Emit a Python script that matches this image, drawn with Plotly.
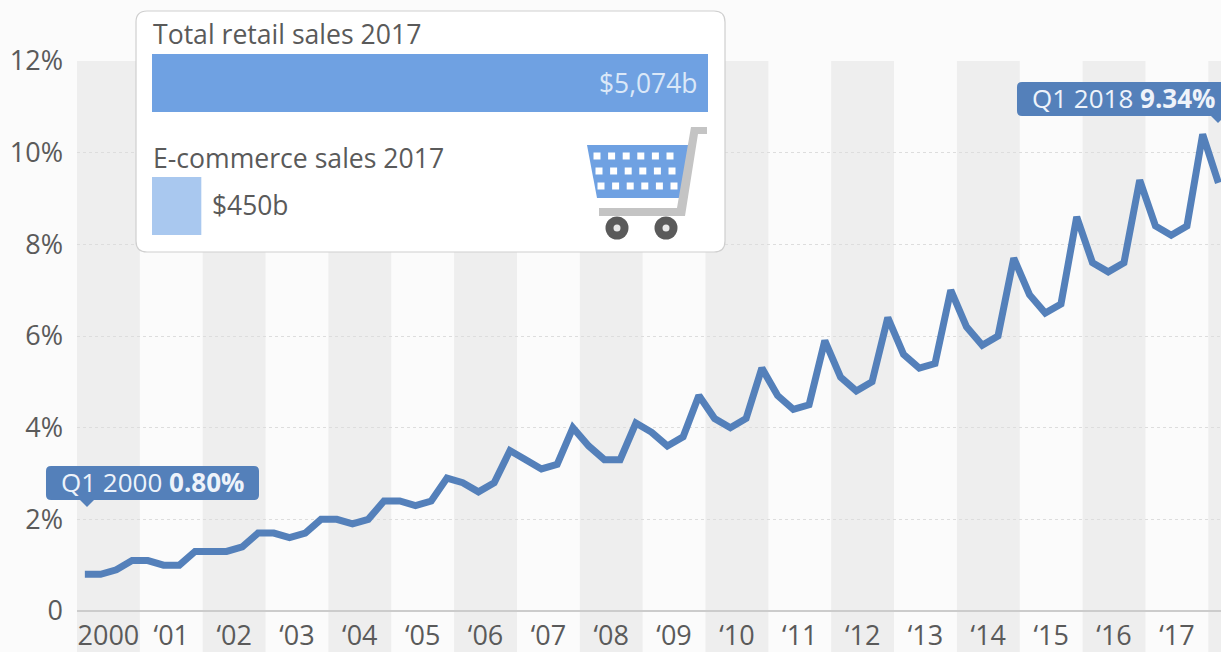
import plotly.graph_objects as go

W, H = 1221, 652

years = list(range(2000, 2019))
year_labels = ["2000", "‘01", "‘02", "‘03", "‘04", "‘05", "‘06", "‘07", "‘08", "‘09",
               "‘10", "‘11", "‘12", "‘13", "‘14", "‘15", "‘16", "‘17"]
share = [
    0.8, 0.8, 0.9, 1.1,
    1.1, 1.0, 1.0, 1.3,
    1.3, 1.3, 1.4, 1.7,
    1.7, 1.6, 1.7, 2.0,
    2.0, 1.9, 2.0, 2.4,
    2.4, 2.3, 2.4, 2.9,
    2.8, 2.6, 2.8, 3.5,
    3.3, 3.1, 3.2, 4.0,
    3.6, 3.3, 3.3, 4.1,
    3.9, 3.6, 3.8, 4.7,
    4.2, 4.0, 4.2, 5.3,
    4.7, 4.4, 4.5, 5.9,
    5.1, 4.8, 5.0, 6.4,
    5.6, 5.3, 5.4, 7.0,
    6.2, 5.8, 6.0, 7.7,
    6.9, 6.5, 6.7, 8.6,
    7.6, 7.4, 7.6, 9.4,
    8.4, 8.2, 8.4, 10.4,
    9.34,
]
y_ticks = [0, 2, 4, 6, 8, 10, 12]
y_labels = ["0", "2%", "4%", "6%", "8%", "10%", "12%"]
sales_names = ["Total retail sales 2017", "E-commerce sales 2017"]
sales_values = [5074, 450]

FONT = "Open Sans"
TEXT = "#5a5a5a"
LINE = "#5480ba"
BG = "#fbfbfb"
BAND = "#eeeeee"

quarter_x = [2000.125 + i * 0.2505 for i in range(len(share))]


def px(x):
    return x / W


def py(y):
    return 1 - y / H


def rounded(x0, y0, x1, y1, r, conv_x=px, conv_y=py):
    pts = [
        ("M", x0 + r, y0), ("L", x1 - r, y0), ("Q", x1, y0, x1, y0 + r),
        ("L", x1, y1 - r), ("Q", x1, y1, x1 - r, y1),
        ("L", x0 + r, y1), ("Q", x0, y1, x0, y1 - r),
        ("L", x0, y0 + r), ("Q", x0, y0, x0 + r, y0),
    ]
    out = []
    for p in pts:
        vals = p[1:]
        s = p[0]
        for k in range(0, len(vals), 2):
            s += f" {conv_x(vals[k]):.5f},{conv_y(vals[k + 1]):.5f}"
        out.append(s)
    return " ".join(out) + " Z"


def poly(points):
    return "M " + " L ".join(f"{px(a):.5f},{py(b):.5f}" for a, b in points) + " Z"


def circle(cx, cy, r):
    return dict(type="circle", xref="paper", yref="paper", x0=px(cx - r), x1=px(cx + r),
                y0=py(cy + r), y1=py(cy - r), line_width=0)


shapes = []
for i, yr in enumerate(years):
    if i % 2 == 0:
        shapes.append(dict(type="rect", xref="x", yref="paper", x0=yr, x1=yr + 1,
                           y0=0, y1=py(61), fillcolor=BAND, line_width=0, layer="below"))

# card, drawn in the sales subplot's own units so that the bars can sit on it
BAR_PX = 556 / sales_values[0]
card_x = lambda p: (p - 152) / BAR_PX
card_y = lambda p: (206 - p) / 123
shapes.append(dict(type="path", xref="x2", yref="y2", layer="between",
                   path=rounded(136, 11, 725, 252, 11, card_x, card_y),
                   fillcolor="#ffffff", line=dict(color="#cfcfcf", width=1.2)))

# callouts
shapes.append(dict(type="path", xref="paper", yref="paper", fillcolor=LINE, line_width=0,
                   path=rounded(46, 466, 259, 500, 5)))
shapes.append(dict(type="path", xref="paper", yref="paper", fillcolor=LINE, line_width=0,
                   path=poly([(79, 499), (87, 507), (95, 499)])))
shapes.append(dict(type="path", xref="paper", yref="paper", fillcolor=LINE, line_width=0,
                   path=rounded(1017, 82, 1235, 116, 5)))
shapes.append(dict(type="path", xref="paper", yref="paper", fillcolor=LINE, line_width=0,
                   path=poly([(1210, 115), (1218, 123), (1226, 115)])))

# shopping cart
CART_BLUE = "#6fa1e2"
CART_GREY = "#c4c4c4"
shapes.append(dict(type="path", xref="paper", yref="paper", fillcolor=CART_BLUE, line_width=0,
                   path=poly([(587, 145), (693, 145), (685, 198), (597, 198)])))
for r, (yy, x_start) in enumerate([(156, 597), (171, 599), (186, 601)]):
    for c in range(6):
        xx = x_start + c * 14.6
        shapes.append(dict(type="rect", xref="paper", yref="paper",
                           x0=px(xx - 3.5), x1=px(xx + 3.5), y0=py(yy + 3.5), y1=py(yy - 3.5),
                           fillcolor="#ffffff", line_width=0))
shapes.append(dict(type="path", xref="paper", yref="paper", fillcolor=CART_GREY, line_width=0,
                   path=poly([(691, 127), (707, 127), (707, 134), (698, 134), (685, 216),
                              (599, 216), (599, 208), (677, 208)])))
for cx in (617, 666):
    shapes.append({**circle(cx, 228, 11.5), "fillcolor": "#5a5a5a"})
    shapes.append({**circle(cx, 228, 3.5), "fillcolor": "#e8e8e8"})


def ann(text, x, y, size, color=TEXT, anchor="left"):
    return dict(text=text, x=px(x), y=py(y), xref="paper", yref="paper", showarrow=False,
                xanchor=anchor, yanchor="middle", font=dict(family=FONT, size=size, color=color),
                borderpad=0, borderwidth=0)


annotations = [
    ann(sales_names[0], 153, 34, 26.6),
    ann(sales_names[1], 153, 158, 26.6),
    ann(f"${sales_values[0]:,}b", 697, 83, 26.4, "#dbe8f8", "right"),
    ann(f"${sales_values[1]:,}b", 212, 205, 26.4),
    ann(f"Q1 2000 <b>{share[0]:.2f}%</b>", 61, 482, 26, "#eef3fa"),
    ann(f"Q1 2018 <b>{share[-1]:.2f}%</b>", 1032, 98, 26, "#eef3fa"),
]

fig = go.Figure()
fig.add_trace(go.Scatter(x=quarter_x, y=share, mode="lines", xaxis="x", yaxis="y",
                         line=dict(color=LINE, width=7), hoverinfo="skip", showlegend=False))
fig.add_trace(go.Bar(x=sales_values, y=[1, 0], orientation="h", width=58 / 123, xaxis="x2", yaxis="y2",
                     marker=dict(color=["#6fa1e2", "#a9c8ef"], line_width=0),
                     hoverinfo="skip", showlegend=False))

fig.update_layout(
    template=None,
    width=W, height=H, autosize=False,
    margin=dict(l=0, r=0, t=0, b=0, pad=0),
    paper_bgcolor=BG, plot_bgcolor="rgba(0,0,0,0)",
    showlegend=False,
    shapes=shapes, annotations=annotations,
    font=dict(family=FONT, color=TEXT),
    xaxis=dict(domain=[px(77), 1], range=[2000, 2000 + (W - 77) / 62.85], automargin=False,
               tickmode="array", tickvals=[y + 0.5 for y in years[:-1]], ticktext=year_labels,
               ticks="", showgrid=False, zeroline=False, showline=False,
               tickfont=dict(family=FONT, size=27, color=TEXT), ticklabelstandoff=6, fixedrange=True),
    yaxis=dict(domain=[py(611), py(61)], range=[0, 12], automargin=False,
               tickmode="array", tickvals=y_ticks, ticktext=y_labels,
               ticks="", showline=False, zeroline=True, zerolinecolor="#cccccc", zerolinewidth=1.5,
               showgrid=True, gridcolor="#dddddd", griddash="dot", gridwidth=1,
               tickfont=dict(family=FONT, size=27, color=TEXT), ticklabelstandoff=13, fixedrange=True),
    xaxis2=dict(domain=[px(134), px(727)], range=[card_x(134), card_x(727)], anchor="y2",
                visible=False, fixedrange=True, automargin=False),
    yaxis2=dict(domain=[py(254), py(9)], range=[card_y(254), card_y(9)], anchor="x2",
                visible=False, fixedrange=True, automargin=False),
)

fig.write_html("out.html", config={"displayModeBar": False},
               post_script="document.body.style.margin='0';document.body.style.overflow='hidden';"
                           "document.body.style.background='#fbfbfb';")
